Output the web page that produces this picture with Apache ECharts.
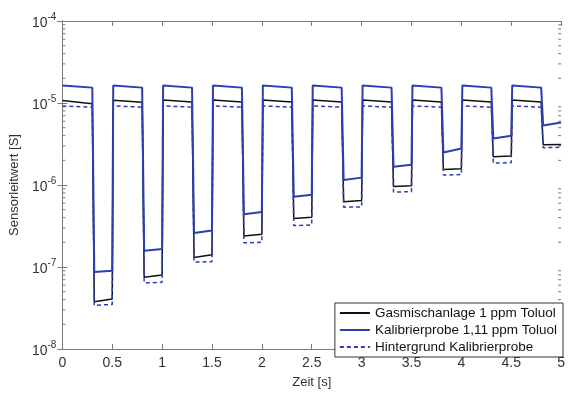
<!DOCTYPE html>
<html>
<head>
<meta charset="utf-8">
<script src="https://cdn.jsdelivr.net/npm/echarts@6/dist/echarts.min.js"></script>
<style>
  html, body { margin: 0; padding: 0; background: #fff; }
  #chart { width: 568px; height: 394px; }
</style>
</head>
<body>
<div id="chart"></div>
<script>
// Sensor conductance, pulsed toluene exposure: 10 cycles of 0.5 s each.
const cycleStart = [0, 0.5, 1, 1.5, 2, 2.5, 3, 3.5, 4, 4.5]
// time offsets inside a cycle: high reached, fall starts, low reached, cycle end
const phaseTimes = [0.01, 0.30, 0.32, 0.50]

const seriesNames = ['Gasmischanlage 1 ppm Toluol', 'Kalibrierprobe 1,11 ppm Toluol', 'Hintergrund Kalibrierprobe']

const gasHighStart = [1.07e-5, 1.08e-5, 1.09e-5, 1.09e-5, 1.09e-5, 1.09e-5, 1.09e-5, 1.09e-5, 1.09e-5, 1.09e-5]
const gasHighEnd   = [0.98e-5, 1.02e-5, 1.03e-5, 1.03e-5, 1.03e-5, 1.03e-5, 1.03e-5, 1.03e-5, 1.03e-5, 1.03e-5]
const gasLowStart  = [3.77e-8, 7.5e-8, 1.31e-7, 2.38e-7, 3.9e-7, 6.25e-7, 9.6e-7, 1.55e-6, 2.21e-6, 3.09e-6]
const gasLowEnd    = [4.06e-8, 8.0e-8, 1.41e-7, 2.5e-7, 4.04e-7, 6.45e-7, 9.8e-7, 1.58e-6, 2.25e-6, 3.12e-6]

const kalHighStart = [1.64e-5, 1.64e-5, 1.64e-5, 1.64e-5, 1.64e-5, 1.64e-5, 1.64e-5, 1.64e-5, 1.64e-5, 1.64e-5]
const kalHighEnd   = [1.54e-5, 1.54e-5, 1.54e-5, 1.54e-5, 1.54e-5, 1.54e-5, 1.54e-5, 1.54e-5, 1.54e-5, 1.54e-5]
const kalLowStart  = [8.7e-8, 1.58e-7, 2.6e-7, 4.4e-7, 7.2e-7, 1.15e-6, 1.67e-6, 2.49e-6, 3.7e-6, 5.3e-6]
const kalLowEnd    = [9.0e-8, 1.66e-7, 2.78e-7, 4.7e-7, 7.6e-7, 1.23e-6, 1.77e-6, 2.78e-6, 3.98e-6, 5.8e-6]

const bgHighStart = [9.2e-6, 9.2e-6, 9.2e-6, 9.2e-6, 9.2e-6, 9.2e-6, 9.2e-6, 9.2e-6, 9.2e-6, 9.2e-6]
const bgHighEnd   = [8.9e-6, 8.9e-6, 8.9e-6, 8.9e-6, 8.9e-6, 8.9e-6, 8.9e-6, 8.9e-6, 8.9e-6, 8.9e-6]
const bgLowStart  = [3.4e-8, 6.4e-8, 1.15e-7, 1.97e-7, 3.2e-7, 5.37e-7, 8.2e-7, 1.32e-6, 1.85e-6, 2.85e-6]
const bgLowEnd    = [3.5e-8, 6.5e-8, 1.16e-7, 2.0e-7, 3.25e-7, 5.4e-7, 8.3e-7, 1.34e-6, 1.87e-6, 2.88e-6]

// minor tick values on the log axis (2..9 in each decade)
const minorTicks = []
for (const e of [-8, -7, -6, -5]) {
  for (const m of [2, 3, 4, 5, 6, 7, 8, 9]) minorTicks.push([0, m * Math.pow(10, e)])
}

function buildPulses(hs, he, ls, le) {
  const pts = []
  cycleStart.forEach(function (t0, i) {
    if (i === 0) pts.push([t0, hs[i]])
    else pts.push([t0 + phaseTimes[0], hs[i]])
    pts.push([t0 + phaseTimes[1], he[i]])
    pts.push([t0 + phaseTimes[2], ls[i]])
    pts.push([t0 + phaseTimes[3], le[i]])
  })
  return pts
}

const axisGray = '#7a7a7a'
const font = '"Liberation Sans", Arial, sans-serif'

const chart = echarts.init(document.getElementById('chart'))
chart.setOption({
  animation: false,
  backgroundColor: '#fff',
  grid: { left: 59.5, right: 3.5, top: 21, bottom: 33 },
  legend: {
    data: seriesNames,
    orient: 'vertical',
    right: 5,
    bottom: 37,
    backgroundColor: '#fff',
    borderColor: '#333',
    borderWidth: 1,
    borderRadius: 0,
    padding: [3, 6, 3, 4],
    itemWidth: 30,
    itemHeight: 14,
    itemGap: 3,
    itemStyle: { opacity: 0 },
    textStyle: { fontFamily: font, fontSize: 13.5, color: '#111' }
  },
  xAxis: [{
    type: 'value', min: 0, max: 5, interval: 0.5,
    name: 'Zeit [s]', nameLocation: 'middle', nameGap: 27,
    nameTextStyle: { fontFamily: font, fontSize: 13, color: '#333' },
    axisLine: { lineStyle: { color: axisGray } },
    axisTick: { inside: true, length: 5, lineStyle: { color: axisGray } },
    axisLabel: { fontFamily: font, fontSize: 14, color: '#333', margin: 7 },
    splitLine: { show: false }
  }, {
    type: 'value', min: 0, max: 5, interval: 0.5, position: 'top',
    axisLine: { lineStyle: { color: axisGray } },
    axisTick: { inside: true, length: 5, lineStyle: { color: axisGray } },
    axisLabel: { show: false },
    splitLine: { show: false }
  }],
  yAxis: [{
    type: 'log', logBase: 10, min: 1e-8, max: 1e-4,
    name: 'Sensorleitwert [S]', nameLocation: 'middle', nameGap: 40, nameRotate: 90,
    nameTextStyle: { fontFamily: font, fontSize: 13, color: '#333' },
    axisLine: { show: true, lineStyle: { color: axisGray } },
    axisTick: { show: true, inside: true, length: 5, lineStyle: { color: axisGray } },
    axisLabel: {
      margin: 6,
      formatter: function (v) {
        return '{b|10}{s|' + Math.round(Math.log10(v)) + '}'
      },
      rich: {
        b: { fontFamily: font, fontSize: 14, color: '#333', padding: [4, 0, 0, 0], verticalAlign: 'bottom' },
        s: { fontFamily: font, fontSize: 10, color: '#333', verticalAlign: 'top' }
      }
    },
    splitLine: { show: false }
  }, {
    type: 'log', logBase: 10, min: 1e-8, max: 1e-4, position: 'right',
    axisLine: { show: true, lineStyle: { color: axisGray } },
    axisTick: { show: true, inside: true, length: 5, lineStyle: { color: axisGray } },
    axisLabel: { show: false },
    splitLine: { show: false }
  }],
  series: [{
    name: seriesNames[0], type: 'line', symbol: 'none', z: 3,
    data: buildPulses(gasHighStart, gasHighEnd, gasLowStart, gasLowEnd),
    lineStyle: { color: '#111', width: 1.5 }, itemStyle: { color: '#111' }
  }, {
    name: seriesNames[2], type: 'line', symbol: 'none', z: 3,
    data: buildPulses(bgHighStart, bgHighEnd, bgLowStart, bgLowEnd),
    lineStyle: { color: '#2b3fb0', width: 1.5, type: [4, 3] }, itemStyle: { color: '#2b3fb0' }
  }, {
    name: seriesNames[1], type: 'line', symbol: 'none', z: 4,
    data: buildPulses(kalHighStart, kalHighEnd, kalLowStart, kalLowEnd),
    lineStyle: { color: '#2b3fb0', width: 2 }, itemStyle: { color: '#2b3fb0' }
  }, {
    type: 'custom', silent: true, z: 2, clip: false,
    data: minorTicks,
    renderItem: function (params, api) {
      const left = api.coord([0, api.value(1)])
      const right = api.coord([5, api.value(1)])
      const st = { stroke: axisGray, lineWidth: 1 }
      return {
        type: 'group',
        children: [
          { type: 'line', shape: { x1: left[0], y1: left[1], x2: left[0] + 3, y2: left[1] }, style: st },
          { type: 'line', shape: { x1: right[0] - 3, y1: right[1], x2: right[0], y2: right[1] }, style: st }
        ]
      }
    }
  }]
})
</script>
</body>
</html>
